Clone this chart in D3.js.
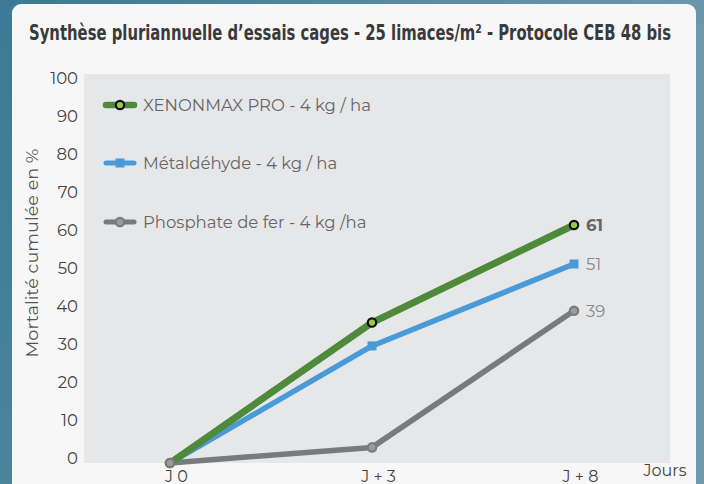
<!DOCTYPE html>
<html><head><meta charset="utf-8">
<script src="https://cdn.jsdelivr.net/npm/d3@7"></script>
<style>html,body{margin:0;padding:0;overflow:hidden;}svg{display:block;}</style>
</head><body>
<script>
const title = "Synthèse pluriannuelle d’essais cages - 25 limaces/m² - Protocole CEB 48 bis";
const categories = ["J 0", "J + 3", "J + 8"];
const xenonmax = [0, 36, 61];
const metaldehyde = [0, 30, 51];
const phosphate = [0, 4, 39];
const seriesNames = ["XENONMAX PRO - 4 kg / ha", "Métaldéhyde - 4 kg / ha", "Phosphate de fer - 4 kg /ha"];
const yTicks = [0, 10, 20, 30, 40, 50, 60, 70, 80, 90, 100];
const yTitle = "Mortalité cumulée en %";
const xTitle = "Jours";

const W = 704, H = 484;
const svg = d3.select("body").append("svg").attr("width", W).attr("height", H);
const defs = svg.append("defs");
const g = defs.append("linearGradient").attr("id","bg").attr("x1","0").attr("y1","0").attr("x2","1").attr("y2","0.3");
g.append("stop").attr("offset","0").attr("stop-color","#3b7a96");
g.append("stop").attr("offset","1").attr("stop-color","#7199ad");
svg.append("rect").attr("width",W).attr("height",H).attr("fill","url(#bg)");
svg.append("rect").attr("x",12).attr("y",4).attr("width",684).attr("height",520).attr("rx",9).attr("fill","#f7f7f7");

svg.append("text").attr("x",29).attr("y",40).text(title)
  .attr("font-family","'Liberation Sans Narrow','DejaVu Sans Condensed','Roboto',sans-serif")
  .attr("font-weight","bold").attr("font-size",21).attr("fill","#3a3a3a")
  .attr("textLength",642).attr("lengthAdjust","spacingAndGlyphs");

// plot area
const plot = {x0:84, x1:670, y0:74, y1:463};
svg.append("rect").attr("x",plot.x0).attr("y",plot.y0).attr("width",plot.x1-plot.x0).attr("height",plot.y1-plot.y0).attr("fill","#e6e7e9");

const x = d3.scalePoint().domain(categories).range([170, 574]);
const y = d3.scaleLinear().domain([0,100]).range([463, 72.8]);
const yLab = d3.scaleLinear().domain([0,100]).range([457.5, 77.5]);

const font = "'Montserrat','Inter','Noto Sans',sans-serif";

// y axis labels
const yAxis = d3.axisLeft(yLab).tickValues(yTicks).tickSize(0).tickPadding(0);
const ya = svg.append("g").attr("transform","translate(78,0)").call(yAxis);
ya.select(".domain").remove();
ya.selectAll("text").attr("font-family",font).attr("font-size",16.5).attr("fill","#444").attr("dy","0.35em");

// x axis labels
const xAxis = d3.axisBottom(x).tickSize(0).tickPadding(0);
const xa = svg.append("g").attr("transform","translate(6,471)").call(xAxis);
xa.select(".domain").remove();
xa.selectAll("text").attr("font-family",font).attr("font-size",16).attr("fill","#444").attr("dy","0.7em");

svg.append("text").attr("x",665).attr("y",476).attr("text-anchor","middle").text(xTitle)
  .attr("font-family",font).attr("font-size",16).attr("fill","#444");
svg.append("text").attr("transform","translate(38,253) rotate(-90)").attr("text-anchor","middle").text(yTitle)
  .attr("font-family",font).attr("font-size",17).attr("fill","#555")
  .attr("textLength",209).attr("lengthAdjust","spacingAndGlyphs");

const series = [
  {name:seriesNames[2], values:phosphate, color:"#797a7c", width:5.5, marker:"circle", mfill:"#9a9b9d", mstroke:"#7a7b7d", label:"#888", bold:false},
  {name:seriesNames[1], values:metaldehyde, color:"#4a9ad8", width:5.5, marker:"square", mfill:"#4a9ad8", mstroke:"#4a9ad8", label:"#888", bold:false},
  {name:seriesNames[0], values:xenonmax, color:"#4f8a3b", width:7, marker:"circle", mfill:"#9cc84c", mstroke:"#111", label:"#666", bold:true}
];

const line = d3.line().x((d,i)=>x(categories[i])).y(d=>y(d));
function marker(sel, s, cx, cy){
  if (s.marker==="square") {
    sel.append("rect").attr("x",cx-4.5).attr("y",cy-4.5).attr("width",9).attr("height",9).attr("fill",s.mfill);
  } else {
    sel.append("circle").attr("cx",cx).attr("cy",cy).attr("r",4.2).attr("fill",s.mfill).attr("stroke",s.mstroke).attr("stroke-width",2.2);
  }
}
series.forEach(s=>{
  svg.append("path").attr("d",line(s.values)).attr("fill","none").attr("stroke",s.color).attr("stroke-width",s.width).attr("stroke-linejoin","round");
});
series.forEach(s=>{
  s.values.forEach((v,i)=>{
    if (i===0 && s.marker==="square") return;
    if (i===0 && s.bold) return;
    marker(svg, s, x(categories[i]), y(v));
  });
  const last = s.values[s.values.length-1];
  svg.append("text").attr("x",x(categories[2])+12).attr("y",y(last)).attr("dy","0.35em").text(last)
    .attr("font-family",font).attr("font-size",16.5).attr("font-weight",s.bold?"bold":"normal").attr("fill",s.label);
});
marker(svg, series[0], x(categories[0]), y(phosphate[0]));

// legend
const legY = [105, 163, 222];
[series[2], series[1], series[0]].forEach((s,i)=>{
  const lg = svg.append("g");
  lg.append("line").attr("x1",106).attr("x2",134).attr("y1",legY[i]).attr("y2",legY[i]).attr("stroke",s.color).attr("stroke-width",s.width-0.5).attr("stroke-linecap","round");
  marker(lg, s, 120, legY[i]);
  lg.append("text").attr("x",143).attr("y",legY[i]).attr("dy","0.35em").text(s.name)
    .attr("font-family",font).attr("font-size",16.5).attr("fill","#666");
});
</script>
</body></html>
